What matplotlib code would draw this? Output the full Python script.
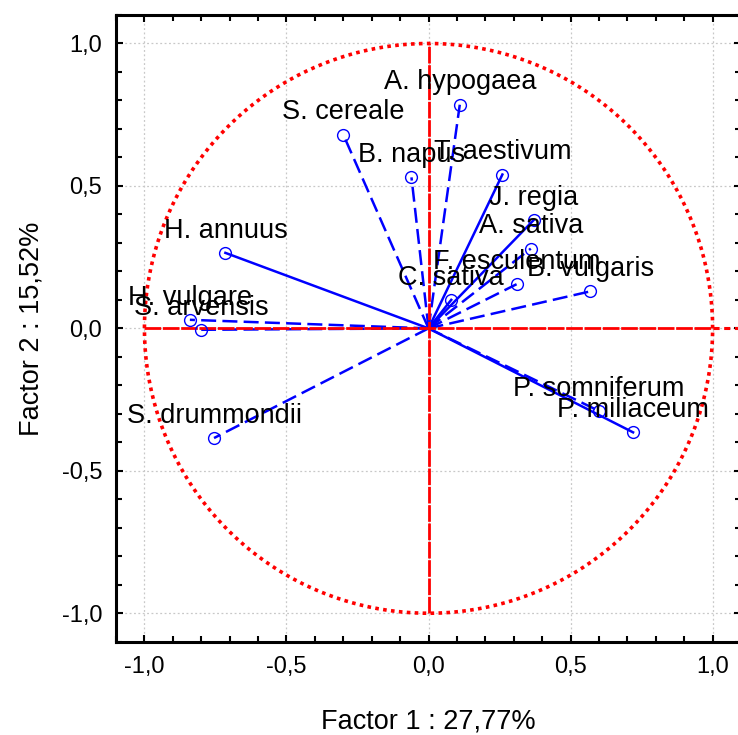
import numpy as np
import matplotlib
matplotlib.use("Agg")
import matplotlib.pyplot as plt
from matplotlib.ticker import MultipleLocator, FuncFormatter

plt.rcParams['font.family'] = ['Liberation Sans', 'DejaVu Sans']

# factor loadings
species = ["A. hypogaea", "S. cereale", "B. napus", "T. aestivum", "J. regia",
           "A. sativa", "F. esculentum", "B. vulgaris", "C. sativa", "H. annuus",
           "H. vulgare", "S. arvensis", "S. drummondii", "P. somniferum",
           "P. miliaceum"]
factor1 = [0.11, -0.30, -0.06, 0.26, 0.37, 0.36, 0.31, 0.57, 0.08, -0.715,
           -0.84, -0.80, -0.755, 0.60, 0.72]
factor2 = [0.785, 0.68, 0.53, 0.54, 0.38, 0.28, 0.155, 0.13, 0.10, 0.265,
           0.03, -0.005, -0.385, -0.29, -0.365]
solid = ["T. aestivum", "J. regia", "C. sativa", "H. annuus", "P. miliaceum"]

xlabel = "Factor 1 : 27,77%"
ylabel = "Factor 2 : 15,52%"

fig = plt.figure(figsize=(7.38, 7.35), dpi=100)
ax = fig.add_axes([0.1572, 0.1269, 0.8469, 0.8527])

blue = "#0000ff"
red = "#ff0000"

for name, x, y in zip(species, factor1, factor2):
    ls = "-" if name in solid else (0, (6, 2.5))
    ax.plot([0, x], [0, y], color=blue, lw=1.8, ls=ls, zorder=3)
    ax.plot(x, y, "o", ms=8.5, mfc="none", mec=blue, mew=1.0, zorder=5)
    ax.annotate(name, (x, y), xytext=(0, 11), textcoords="offset points",
                ha="center", va="baseline", fontsize=19.5, color="black",
                zorder=6)

# unit circle and cross
t = np.linspace(0, 2 * np.pi, 400)
ax.plot(np.cos(t), np.sin(t), color=red, lw=2.6, ls=(0, (1, 1.2)), zorder=4)
ax.plot([-1, 1], [0, 0], color=red, lw=2.0, ls=(0, (6, 0.6)), zorder=4)
ax.plot([1, 1.1], [0, 0], color=red, lw=2.2, ls=(0, (2, 1.5)), zorder=4)
ax.plot([0, 0], [-1, 1], color=red, lw=2.0, ls=(0, (6, 0.6)), zorder=4)

ax.set_xlim(-1.1, 1.1)
ax.set_ylim(-1.1, 1.1)
ax.xaxis.set_major_locator(MultipleLocator(0.5))
ax.yaxis.set_major_locator(MultipleLocator(0.5))
ax.xaxis.set_minor_locator(MultipleLocator(0.1))
ax.yaxis.set_minor_locator(MultipleLocator(0.1))
comma = FuncFormatter(lambda v, p: f"{v:.1f}".replace(".", ","))
ax.xaxis.set_major_formatter(comma)
ax.yaxis.set_major_formatter(comma)
ax.tick_params(which="both", direction="in", top=True, right=True,
               width=1.5, labelsize=17)
ax.tick_params(which="major", length=5, pad=10)
ax.tick_params(which="minor", length=4)
ax.grid(True, which="major", color="#c8c8c8", ls=(0, (1.5, 2)), lw=0.9)
for s in ax.spines.values():
    s.set_linewidth(2.2)

ax.set_xlabel(xlabel, fontsize=19.5, labelpad=22)
ax.set_ylabel(ylabel, fontsize=19.5, labelpad=12)

fig.savefig("out.png", dpi=100)
